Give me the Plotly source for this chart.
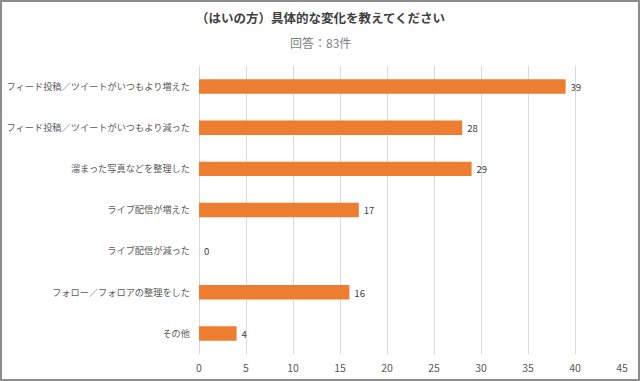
import plotly.graph_objects as go

categories = [
    "フィード投稿／ツイートがいつもより増えた",
    "フィード投稿／ツイートがいつもより減った",
    "溜まった写真などを整理した",
    "ライブ配信が増えた",
    "ライブ配信が減った",
    "フォロー／フォロアの整理をした",
    "その他",
]
values = [39, 28, 29, 17, 0, 16, 4]
title_text = "（はいの方）具体的な変化を教えてください"
subtitle_text = "回答：83件"

FONT = "Noto Sans CJK JP"

fig = go.Figure(
    go.Bar(
        x=values,
        y=categories,
        orientation="h",
        marker=dict(color="#ED7D31", line=dict(width=0)),
        text=["\u2009" + str(v) for v in values],
        textposition="outside",
        textfont=dict(family=FONT, size=10, color="#404040"),
        cliponaxis=False,
        width=0.35,
    )
)

L, R, T, B = 199, 18, 66, 27
W, H = 640, 381
pw = W - L - R
ph = H - T - B

def px_x(px):
    return (px - L) / pw

def px_y(py):
    return (H - B - py) / ph

fig.update_layout(
    width=W,
    height=H,
    margin=dict(l=L, r=R, t=T, b=B, autoexpand=False),
    paper_bgcolor="white",
    plot_bgcolor="white",
    showlegend=False,
    font=dict(family=FONT, color="#595959"),
    xaxis=dict(
        range=[0, 45],
        dtick=5,
        tick0=0,
        showgrid=True,
        gridcolor="#D9D9D9",
        gridwidth=1,
        zeroline=True,
        zerolinecolor="#D9D9D9",
        zerolinewidth=1,
        showline=False,
        ticks="",
        automargin=False,
        ticklabelstandoff=6,
        tickfont=dict(family=FONT, size=10.5, color="#595959"),
        fixedrange=True,
    ),
    yaxis=dict(
        autorange="reversed",
        showgrid=False,
        zeroline=False,
        showline=False,
        ticks="",
        automargin=False,
        ticklabelstandoff=8,
        tickfont=dict(family=FONT, size=9.2, color="#595959"),
        fixedrange=True,
    ),
    annotations=[
        dict(
            text=title_text, x=px_x(320), y=px_y(18), xref="paper", yref="paper",
            showarrow=False, xanchor="center", yanchor="middle",
            font=dict(family=FONT, size=12.5, color="#404040", weight="bold"),
        ),
        dict(
            text=subtitle_text, x=px_x(320), y=px_y(42), xref="paper", yref="paper",
            showarrow=False, xanchor="center", yanchor="middle",
            font=dict(family=FONT, size=12, color="#7F7F7F"),
        ),
    ],
    shapes=[
        dict(
            type="rect", xref="paper", yref="paper",
            x0=px_x(1), x1=px_x(639), y0=px_y(380), y1=px_y(1),
            line=dict(color="#8C8C8C", width=2), fillcolor="rgba(0,0,0,0)",
            layer="above",
        )
    ],
)

fig.write_html(
    "out.html",
    config={"displayModeBar": False},
    post_script="document.body.style.margin='0';document.body.style.overflow='hidden';",
)
